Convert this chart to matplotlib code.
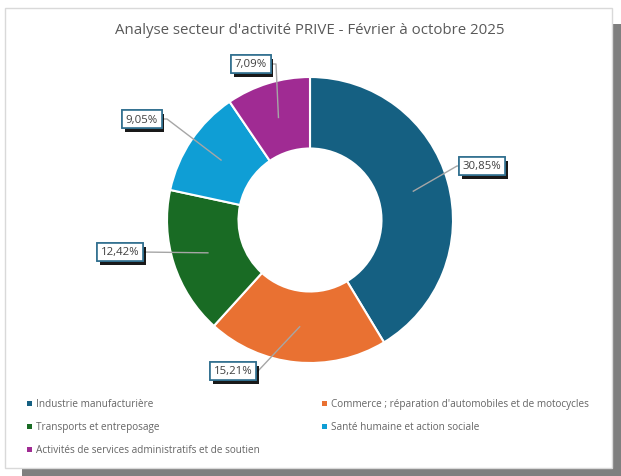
import numpy as np
import matplotlib
matplotlib.use("Agg")
import matplotlib.pyplot as plt
import matplotlib.patheffects as pe
from matplotlib.patches import Rectangle

# données
secteurs = ["Industrie manufacturière",
            "Commerce ; réparation d'automobiles et de motocycles",
            "Transports et entreposage",
            "Santé humaine et action sociale",
            "Activités de services administratifs et de soutien"]
pourcentages = [30.85, 15.21, 12.42, 9.05, 7.09]
couleurs = ["#156082", "#E97132", "#196B24", "#0F9ED5", "#A02B93"]
titre = "Analyse secteur d'activité PRIVE - Février à octobre 2025"

plt.rcParams['font.family'] = ['Open Sans', 'DejaVu Sans']

W, H = 621, 477
fig = plt.figure(figsize=(W / 100, H / 100), dpi=100)

# axe de fond en pixels
bg = fig.add_axes([0, 0, 1, 1])
bg.set_xlim(0, W)
bg.set_ylim(H, 0)
bg.axis("off")

# ombre + cadre
bg.add_patch(Rectangle((22, 25), 600, 460, facecolor="#7f7f7f", edgecolor="none", zorder=0))
bg.add_patch(Rectangle((5, 9), 607, 460, facecolor="white", edgecolor="#d9d9d9", lw=1, zorder=1))

bg.text(310, 30, titre, ha="center", va="center", fontsize=10.8, color="#595959", zorder=3)

# donut
cx, cy, R = 310, 221, 143
ax = fig.add_axes([(cx - R) / W, (H - cy - R) / H, 2 * R / W, 2 * R / H])
wedges, _ = ax.pie(pourcentages, colors=couleurs, startangle=90, counterclock=False,
                   radius=1, wedgeprops=dict(width=0.5, edgecolor="white", linewidth=1.5))
ax.set_xlim(-1, 1)
ax.set_ylim(-1, 1)
ax.set_aspect("equal")
ax.axis("off")

# calque du dessus pour étiquettes et légende
top = fig.add_axes([0, 0, 1, 1])
top.set_xlim(0, W)
top.set_ylim(H, 0)
top.axis("off")
top.patch.set_alpha(0)

# étiquettes avec lignes de rappel
boites = [(482, 167), (233, 372), (120, 253), (142, 120), (251, 65)]
for w, v, (bx, by) in zip(wedges, pourcentages, boites):
    theta = np.deg2rad((w.theta1 + w.theta2) / 2)
    r = 0.75 * R
    px, py = cx + r * np.cos(theta), cy - r * np.sin(theta)
    side = 1 if bx < px else -1
    edge_x = bx + side * 20
    if abs(by - py) < 5:
        top.plot([px, edge_x], [py, by], color="#a6a6a6", lw=1, zorder=3)
    else:
        top.plot([px, edge_x + side * 5, edge_x], [py, by, by], color="#a6a6a6", lw=1, zorder=3)
    t = top.text(bx, by, f"{v:.2f}".replace(".", ",") + "%", ha="center", va="center",
                 fontsize=8.2, color="#404040", zorder=5,
                 bbox=dict(boxstyle="square,pad=0.3", facecolor="white", edgecolor="#31708f", lw=1.2))
    t.get_bbox_patch().set_path_effects([pe.withSimplePatchShadow(offset=(2, -3), shadow_rgbFace="black", alpha=0.9),
                                         pe.Normal()])

# légende (la dernière ligne est coupée en bas comme dans l'original)
clip = Rectangle((0, 0), W, 453.5, transform=top.transData, visible=False)
top.add_patch(clip)
for i, (nom, c) in enumerate(zip(secteurs, couleurs)):
    lx = 30 if i % 2 == 0 else 325
    ly = 405 + 23 * (i // 2)
    sq = Rectangle((lx - 3, ly - 3), 5, 5, facecolor=c, edgecolor="none", zorder=3)
    top.add_patch(sq)
    tx = top.text(lx + 6, ly, nom, ha="left", va="center", fontsize=7.2, color="#666666", zorder=3)
    tx.set_clip_path(clip)

fig.savefig("out.png", dpi=100)
